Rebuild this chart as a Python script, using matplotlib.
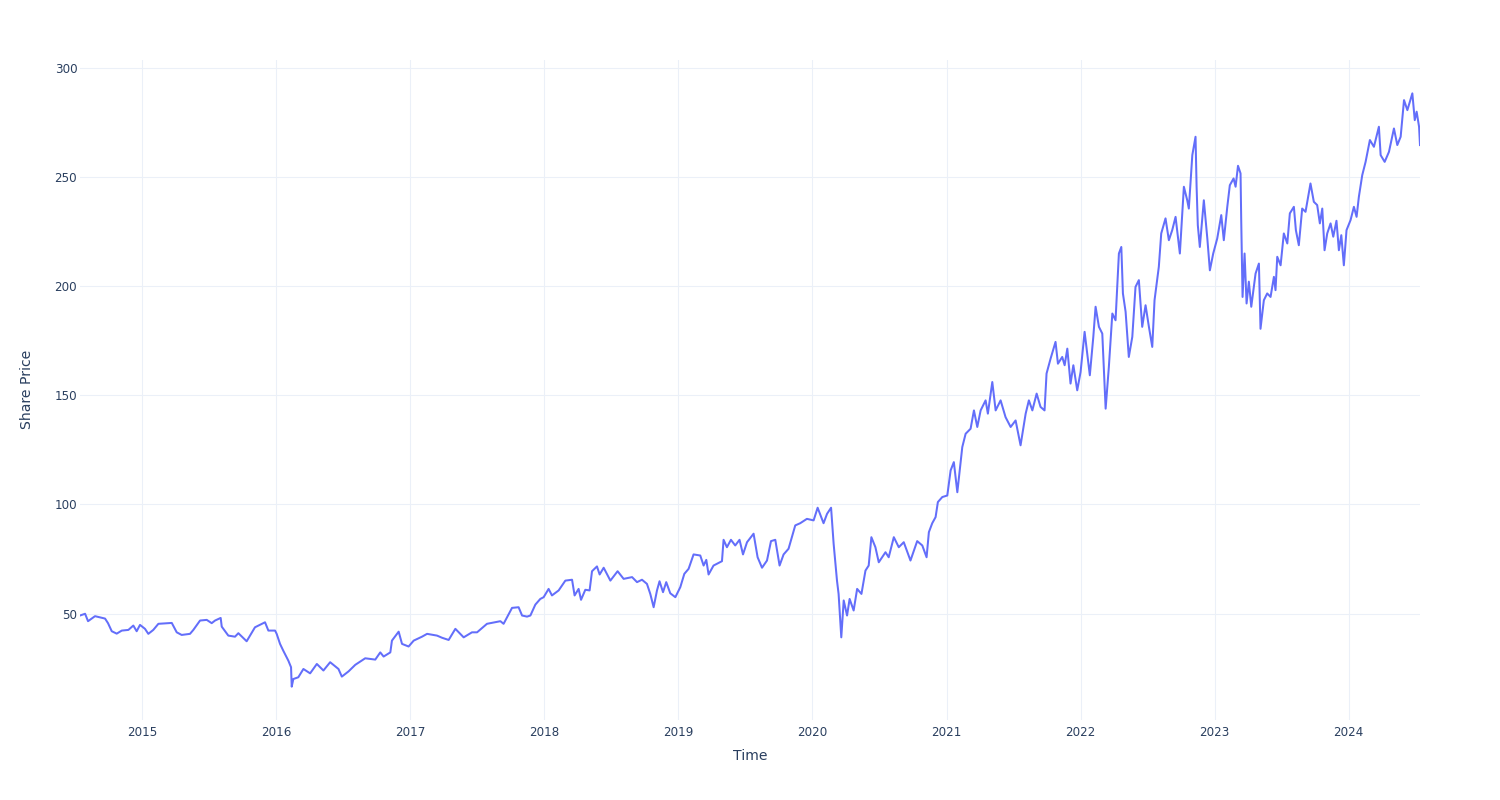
import numpy as np
import pandas as pd
import matplotlib
matplotlib.use("Agg")
import matplotlib.pyplot as plt
import matplotlib.dates as mdates

# Time in fractional years
years = [
    2014.537, 2014.575, 2014.597, 2014.649, 2014.724, 2014.746, 2014.774, 2014.811, 2014.849, 2014.898,
    2014.935, 2014.960, 2014.985, 2015.022, 2015.047, 2015.084, 2015.122, 2015.222, 2015.259, 2015.296,
    2015.358, 2015.383, 2015.433, 2015.483, 2015.520, 2015.545, 2015.587, 2015.595, 2015.644, 2015.694,
    2015.719, 2015.781, 2015.806, 2015.843, 2015.918, 2015.943, 2015.993, 2016.005, 2016.030, 2016.054,
    2016.092, 2016.112, 2016.117, 2016.129, 2016.166, 2016.204, 2016.254, 2016.304, 2016.353, 2016.403,
    2016.465, 2016.490, 2016.540, 2016.590, 2016.664, 2016.739, 2016.776, 2016.801, 2016.851, 2016.863,
    2016.913, 2016.938, 2016.987, 2017.025, 2017.087, 2017.125, 2017.199, 2017.237, 2017.286, 2017.336,
    2017.398, 2017.460, 2017.498, 2017.572, 2017.672, 2017.696, 2017.759, 2017.808, 2017.834, 2017.871,
    2017.896, 2017.933, 2017.970, 2017.995, 2018.032, 2018.057, 2018.107, 2018.157, 2018.207, 2018.226,
    2018.256, 2018.274, 2018.306, 2018.338, 2018.356, 2018.393, 2018.413, 2018.443, 2018.493, 2018.547,
    2018.592, 2018.655, 2018.692, 2018.729, 2018.766, 2018.791, 2018.816, 2018.841, 2018.860, 2018.886,
    2018.910, 2018.940, 2018.978, 2019.015, 2019.045, 2019.077, 2019.114, 2019.164, 2019.189, 2019.209,
    2019.226, 2019.263, 2019.326, 2019.338, 2019.363, 2019.393, 2019.425, 2019.457, 2019.483, 2019.513,
    2019.562, 2019.592, 2019.625, 2019.662, 2019.692, 2019.724, 2019.756, 2019.786, 2019.823, 2019.873,
    2019.910, 2019.960, 2020.010, 2020.040, 2020.084, 2020.110, 2020.140, 2020.159, 2020.184, 2020.196,
    2020.216, 2020.234, 2020.259, 2020.278, 2020.308, 2020.334, 2020.366, 2020.396, 2020.420, 2020.440,
    2020.470, 2020.495, 2020.545, 2020.569, 2020.607, 2020.644, 2020.681, 2020.731, 2020.781, 2020.819,
    2020.851, 2020.868, 2020.893, 2020.918, 2020.935, 2020.968, 2021.005, 2021.030, 2021.054, 2021.080,
    2021.117, 2021.142, 2021.179, 2021.204, 2021.229, 2021.254, 2021.291, 2021.308, 2021.341, 2021.366,
    2021.403, 2021.440, 2021.478, 2021.515, 2021.552, 2021.590, 2021.614, 2021.640, 2021.672, 2021.701,
    2021.731, 2021.746, 2021.776, 2021.813, 2021.831, 2021.863, 2021.881, 2021.901, 2021.925, 2021.946,
    2021.975, 2022.000, 2022.030, 2022.069, 2022.095, 2022.112, 2022.137, 2022.162, 2022.187, 2022.211,
    2022.237, 2022.261, 2022.286, 2022.304, 2022.316, 2022.336, 2022.360, 2022.386, 2022.410, 2022.435,
    2022.460, 2022.485, 2022.510, 2022.535, 2022.552, 2022.584, 2022.602, 2022.634, 2022.659, 2022.684,
    2022.709, 2022.741, 2022.771, 2022.796, 2022.808, 2022.834, 2022.858, 2022.866, 2022.875, 2022.890,
    2022.920, 2022.946, 2022.965, 2022.990, 2023.020, 2023.050, 2023.069, 2023.095, 2023.114, 2023.142,
    2023.157, 2023.175, 2023.194, 2023.199, 2023.209, 2023.224, 2023.239, 2023.256, 2023.274, 2023.306,
    2023.331, 2023.343, 2023.368, 2023.393, 2023.418, 2023.443, 2023.455, 2023.468, 2023.493, 2023.517,
    2023.543, 2023.562, 2023.592, 2023.607, 2023.629, 2023.654, 2023.679, 2023.716, 2023.741, 2023.766,
    2023.786, 2023.804, 2023.821, 2023.841, 2023.866, 2023.886, 2023.910, 2023.928, 2023.946, 2023.965,
    2023.985, 2024.015, 2024.040, 2024.060, 2024.077, 2024.102, 2024.127, 2024.159, 2024.189, 2024.226,
    2024.239, 2024.269, 2024.301, 2024.338, 2024.363, 2024.388, 2024.413, 2024.438, 2024.475, 2024.493,
    2024.507, 2024.525, 2024.532,
]

share_price = [
    49.1, 49.9, 46.5, 48.8, 47.7, 45.6, 41.9, 40.8, 42.2, 42.5,
    44.5, 41.9, 44.8, 43.0, 40.7, 42.5, 45.3, 45.7, 41.4, 40.2,
    40.7, 42.5, 46.8, 47.1, 45.6, 46.8, 48.0, 44.0, 39.9, 39.4,
    41.0, 37.3, 39.9, 43.7, 46.0, 42.2, 42.2, 40.7, 36.1, 33.0,
    28.4, 25.4, 16.5, 20.0, 20.8, 24.6, 22.6, 26.9, 23.9, 27.7,
    24.6, 21.1, 23.5, 26.5, 29.5, 28.9, 32.2, 30.3, 32.2, 37.6,
    41.7, 36.1, 34.9, 37.6, 39.4, 40.7, 39.9, 38.9, 37.9, 43.0,
    39.1, 41.4, 41.4, 45.3, 46.5, 45.3, 52.6, 52.9, 49.1, 48.6,
    49.1, 54.1, 56.7, 57.5, 61.3, 58.3, 60.6, 65.1, 65.5, 58.3,
    61.3, 56.3, 60.9, 60.6, 69.4, 71.6, 67.9, 71.0, 65.1, 69.4,
    65.9, 66.7, 64.4, 65.5, 63.6, 59.0, 52.9, 60.6, 64.8, 59.8,
    64.4, 59.3, 57.5, 62.1, 68.2, 70.5, 77.1, 76.6, 72.0, 74.6,
    67.9, 72.0, 74.0, 83.8, 80.4, 83.8, 81.2, 83.8, 77.1, 82.7,
    86.6, 75.8, 71.0, 74.3, 83.2, 83.8, 72.0, 77.1, 79.7, 90.4,
    91.4, 93.4, 92.7, 98.5, 91.4, 95.7, 98.5, 82.0, 65.1, 59.0,
    39.1, 56.0, 49.1, 56.7, 51.4, 61.3, 59.0, 69.7, 72.0, 85.0,
    80.4, 73.5, 78.1, 75.8, 85.0, 80.4, 82.7, 74.3, 83.2, 81.2,
    75.8, 87.3, 91.4, 94.2, 101.1, 103.4, 104.1, 115.6, 119.4, 105.6,
    126.3, 132.4, 134.7, 143.1, 135.5, 143.1, 147.7, 141.6, 156.1, 143.1,
    147.7, 140.0, 135.5, 138.5, 127.1, 141.6, 147.7, 143.1, 150.8, 144.7,
    143.1, 160.0, 166.8, 174.5, 164.5, 167.6, 163.8, 171.4, 155.4, 163.8,
    152.3, 160.7, 179.1, 159.2, 176.8, 190.6, 181.4, 178.3, 143.9, 163.0,
    187.5, 184.4, 215.0, 218.0, 196.7, 188.3, 167.6, 176.8, 199.7, 202.8,
    181.4, 191.3, 181.4, 172.2, 193.6, 208.9, 224.2, 231.1, 221.1, 225.7,
    231.8, 215.0, 245.6, 239.4, 235.6, 260.1, 268.5, 245.6, 228.0, 218.0,
    239.4, 221.9, 207.3, 215.0, 221.9, 232.6, 221.1, 236.4, 246.3, 249.4,
    245.6, 255.2, 251.7, 230.3, 195.1, 215.0, 192.1, 202.1, 190.6, 205.8,
    210.4, 180.5, 193.6, 196.7, 195.1, 204.3, 198.2, 213.5, 209.6, 224.2,
    219.6, 233.4, 236.4, 225.7, 218.8, 235.6, 234.1, 247.1, 238.7, 237.2,
    228.8, 235.6, 216.5, 224.2, 228.8, 222.7, 230.0, 216.5, 223.4, 209.6,
    225.7, 230.3, 236.4, 231.8, 241.0, 250.9, 257.0, 267.0, 263.9, 273.1,
    260.1, 257.0, 261.6, 272.3, 264.7, 268.5, 285.3, 280.7, 288.4, 276.1,
    280.0, 273.1, 264.7,
]

y_ticks = [50, 100, 150, 200, 250, 300]
x_tick_years = list(range(2015, 2025))


def frac_year_to_date(y):
    yr = int(np.floor(y))
    start = pd.Timestamp(yr, 1, 1)
    end = pd.Timestamp(yr + 1, 1, 1)
    return start + (end - start) * (y - yr)


dates = [frac_year_to_date(y) for y in years]

TEXT = "#2a3f5f"
GRID = "#EBF0F8"
LINE = "#636EFA"

fig = plt.figure(figsize=(15, 8), dpi=100)
ax = fig.add_axes([80 / 1500, 80 / 800, 1340 / 1500, 660 / 800])
ax.set_facecolor("white")

ax.plot(dates, share_price, color=LINE, linewidth=1.45, solid_joinstyle="round", zorder=3)

ax.set_xlim(dates[0], dates[-1])
ymin, ymax = min(share_price), max(share_price)
pad = (ymax - ymin) * 0.0562
ax.set_ylim(ymin - pad, ymax + pad)

ax.set_yticks(y_ticks)
ax.set_yticklabels([str(v) for v in y_ticks])
ax.set_xticks([pd.Timestamp(y, 1, 1) for y in x_tick_years])
ax.xaxis.set_major_formatter(mdates.DateFormatter("%Y"))

ax.grid(True, color=GRID, linewidth=0.75, zorder=0)
ax.set_axisbelow(True)
for s in ax.spines.values():
    s.set_visible(False)
ax.tick_params(axis="both", length=0, labelsize=8.6, colors=TEXT)
ax.tick_params(axis="y", pad=2)
ax.tick_params(axis="x", pad=4)

fig.text(750 / 1500, 1 - 756 / 800, "Time", ha="center", va="center", fontsize=10.1, color=TEXT)
fig.text(27 / 1500, 1 - 389 / 800, "Share Price", ha="center", va="center", rotation=90,
         fontsize=10.1, color=TEXT)

fig.savefig("out.png", dpi=100, facecolor="white")
